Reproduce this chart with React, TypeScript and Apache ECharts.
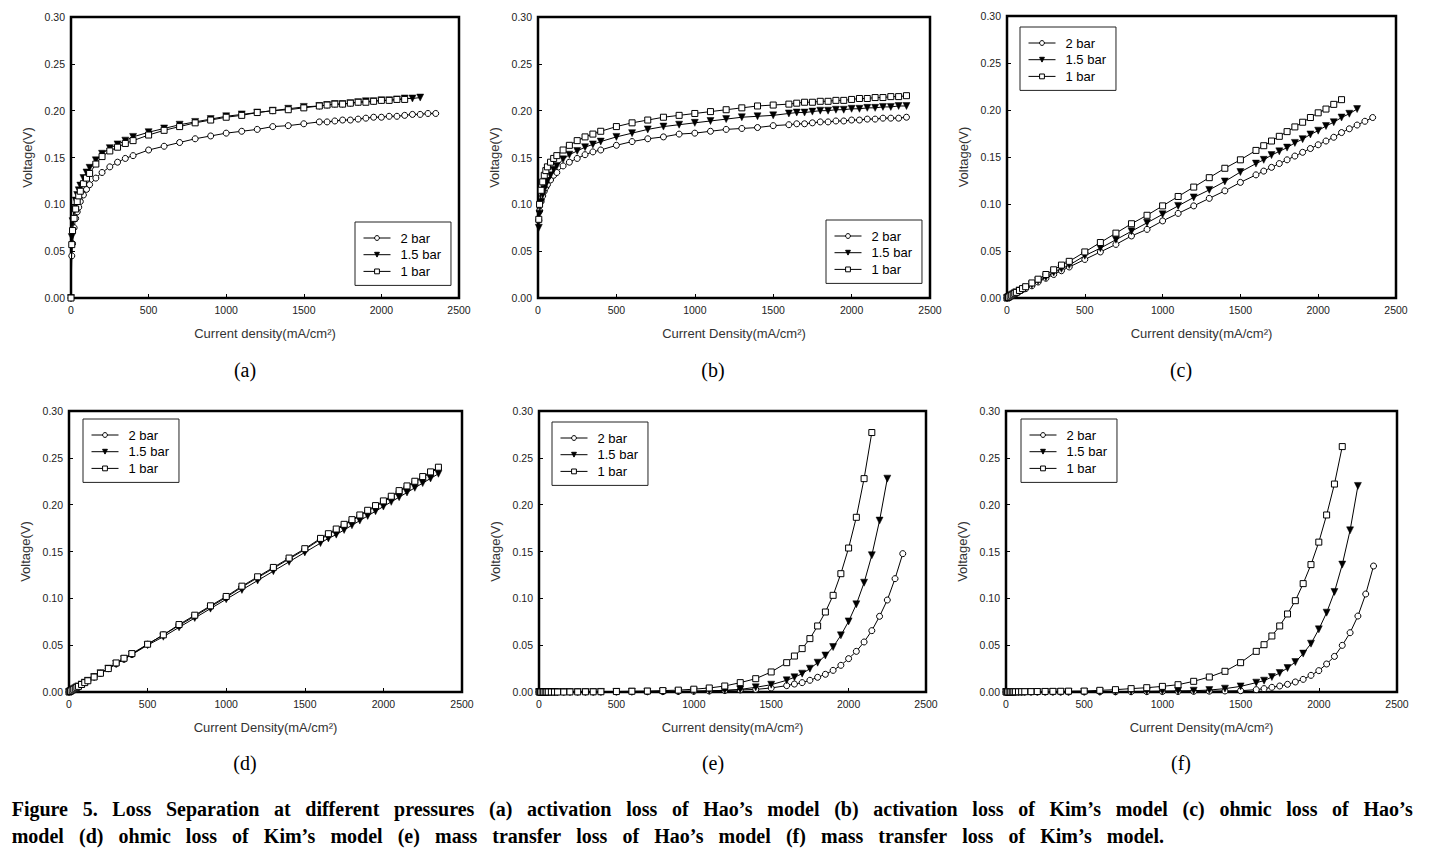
import React, { useEffect, useRef } from 'react';
import * as echarts from 'echarts';

// ---------------- data ----------------
// current density samples (mA/cm2)
const X_FULL = [0, 5, 10, 20, 30, 40, 50, 60, 80, 100, 120, 160, 200, 250, 300, 350, 400,
  500, 600, 700, 800, 900, 1000, 1100, 1200, 1300, 1400, 1500,
  1600, 1650, 1700, 1750, 1800, 1850, 1900, 1950, 2000, 2050, 2100, 2150, 2200, 2250, 2300, 2350];
const X_NO_ZERO = [5, 10, 20, 30, 40, 50, 60, 80, 100, 120, 160, 200, 250, 300, 350, 400,
  500, 600, 700, 800, 900, 1000, 1100, 1200, 1300, 1400, 1500,
  1600, 1650, 1700, 1750, 1800, 1850, 1900, 1950, 2000, 2050, 2100, 2150, 2200, 2250, 2300, 2350];

const SERIES_NAMES = ['2 bar', '1.5 bar', '1 bar'];
const Y_TICKS = [0, 0.05, 0.1, 0.15, 0.2, 0.25, 0.3];
const X_TICKS = [0, 500, 1000, 1500, 2000, 2500];

// (a) activation loss, Hao's model
const A_2BAR = [0, 0.045, 0.058, 0.075, 0.085, 0.092, 0.097, 0.103, 0.110, 0.116, 0.121, 0.128, 0.134, 0.140, 0.145, 0.149, 0.152,
  0.158, 0.162, 0.166, 0.170, 0.173, 0.176, 0.178, 0.180, 0.183, 0.184, 0.186,
  0.188, 0.188, 0.189, 0.190, 0.190, 0.191, 0.192, 0.193, 0.193, 0.194, 0.194, 0.195, 0.196, 0.196, 0.197, 0.197];
const A_15BAR = [0, 0.065, 0.082, 0.095, 0.104, 0.110, 0.115, 0.120, 0.128, 0.134, 0.139, 0.147, 0.154, 0.160, 0.164, 0.168, 0.172,
  0.177, 0.181, 0.185, 0.188, 0.191, 0.194, 0.196, 0.198, 0.200, 0.202, 0.204,
  0.205, 0.206, 0.207, 0.207, 0.208, 0.209, 0.210, 0.210, 0.211, 0.211, 0.212, 0.213, 0.213, 0.214];
const A_1BAR = [0, 0.057, 0.072, 0.085, 0.095, 0.103, 0.109, 0.114, 0.122, 0.128, 0.133, 0.143, 0.151, 0.157, 0.161, 0.165, 0.168,
  0.174, 0.179, 0.183, 0.187, 0.190, 0.193, 0.195, 0.198, 0.200, 0.201, 0.203,
  0.205, 0.206, 0.207, 0.207, 0.208, 0.209, 0.209, 0.210, 0.211, 0.211, 0.212, 0.212];

// (b) activation loss, Kim's model (starts at 5 mA/cm2)
const B_2BAR = [0.083, 0.093, 0.103, 0.109, 0.114, 0.118, 0.121, 0.126, 0.131, 0.134, 0.141, 0.145, 0.149, 0.153, 0.156, 0.158,
  0.163, 0.167, 0.170, 0.172, 0.175, 0.176, 0.178, 0.180, 0.181, 0.182, 0.184,
  0.185, 0.186, 0.186, 0.187, 0.188, 0.188, 0.189, 0.189, 0.190, 0.190, 0.191, 0.191, 0.192, 0.192, 0.192, 0.193];
const B_15BAR = [0.075, 0.090, 0.102, 0.110, 0.116, 0.121, 0.125, 0.131, 0.137, 0.141, 0.148, 0.153, 0.157, 0.161, 0.164, 0.167,
  0.172, 0.176, 0.180, 0.183, 0.185, 0.187, 0.189, 0.191, 0.193, 0.194, 0.195,
  0.197, 0.198, 0.198, 0.199, 0.200, 0.200, 0.201, 0.201, 0.202, 0.202, 0.203, 0.203, 0.204, 0.204, 0.205, 0.205];
const B_1BAR = [0.084, 0.100, 0.115, 0.124, 0.131, 0.136, 0.140, 0.145, 0.149, 0.152, 0.158, 0.163, 0.168, 0.172, 0.175, 0.178,
  0.183, 0.187, 0.190, 0.193, 0.195, 0.197, 0.199, 0.201, 0.203, 0.205, 0.206,
  0.207, 0.208, 0.209, 0.209, 0.210, 0.210, 0.211, 0.211, 0.212, 0.213, 0.213, 0.214, 0.214, 0.215, 0.215, 0.216];

// (c) ohmic loss, Hao's model
const C_2BAR = [0, 0.0004, 0.001, 0.002, 0.003, 0.004, 0.005, 0.006, 0.007, 0.009, 0.010, 0.013, 0.017, 0.021, 0.025, 0.029, 0.033,
  0.041, 0.049, 0.057, 0.066, 0.073, 0.082, 0.090, 0.098, 0.106, 0.114, 0.123,
  0.131, 0.135, 0.139, 0.143, 0.147, 0.151, 0.155, 0.159, 0.163, 0.167, 0.171, 0.176, 0.180, 0.184, 0.188, 0.192];
const C_15BAR = [0, 0.0005, 0.001, 0.002, 0.003, 0.004, 0.005, 0.006, 0.008, 0.009, 0.011, 0.014, 0.018, 0.022, 0.027, 0.031, 0.035,
  0.045, 0.053, 0.062, 0.071, 0.080, 0.089, 0.098, 0.107, 0.115, 0.124, 0.134,
  0.143, 0.147, 0.152, 0.156, 0.160, 0.165, 0.169, 0.174, 0.178, 0.183, 0.187, 0.192, 0.196, 0.201];
const C_1BAR = [0, 0.0005, 0.001, 0.002, 0.003, 0.004, 0.005, 0.006, 0.008, 0.010, 0.012, 0.016, 0.020, 0.025, 0.030, 0.035, 0.039,
  0.049, 0.059, 0.069, 0.079, 0.088, 0.098, 0.108, 0.118, 0.128, 0.138, 0.147,
  0.157, 0.162, 0.167, 0.172, 0.177, 0.182, 0.187, 0.192, 0.197, 0.201, 0.206, 0.211];

// (d) ohmic loss, Kim's model
const D_2BAR = [0, 0.0005, 0.001, 0.002, 0.003, 0.004, 0.005, 0.006, 0.008, 0.010, 0.012, 0.016, 0.020, 0.025, 0.030, 0.035, 0.040,
  0.051, 0.061, 0.071, 0.081, 0.091, 0.101, 0.112, 0.122, 0.132, 0.142, 0.152,
  0.163, 0.168, 0.173, 0.178, 0.183, 0.188, 0.193, 0.198, 0.203, 0.208, 0.214, 0.219, 0.224, 0.229, 0.234, 0.239];
const D_15BAR = [0, 0.0005, 0.001, 0.002, 0.003, 0.004, 0.005, 0.006, 0.008, 0.010, 0.012, 0.016, 0.020, 0.025, 0.030, 0.035, 0.040,
  0.050, 0.059, 0.069, 0.079, 0.089, 0.099, 0.109, 0.119, 0.129, 0.139, 0.149,
  0.159, 0.164, 0.168, 0.173, 0.178, 0.183, 0.188, 0.193, 0.198, 0.203, 0.208, 0.213, 0.218, 0.223, 0.228, 0.233];
const D_1BAR = [0, 0.0005, 0.001, 0.002, 0.003, 0.004, 0.005, 0.006, 0.008, 0.010, 0.012, 0.016, 0.020, 0.025, 0.031, 0.036, 0.041,
  0.051, 0.061, 0.072, 0.082, 0.092, 0.102, 0.113, 0.123, 0.133, 0.143, 0.153,
  0.164, 0.169, 0.174, 0.179, 0.184, 0.189, 0.194, 0.199, 0.204, 0.209, 0.215, 0.220, 0.225, 0.230, 0.235, 0.240];

// (e) mass transfer loss, Hao's model
const E_2BAR = [0, 0, 0, 0, 0, 0, 0, 0, 0, 0, 0, 0, 0, 0, 0, 0, 0.0001,
  0.0001, 0.0002, 0.0003, 0.0004, 0.0006, 0.0008, 0.0011, 0.0016, 0.0022, 0.0028, 0.0043,
  0.0068, 0.0085, 0.0100, 0.0125, 0.0157, 0.0189, 0.0231, 0.0285, 0.0356, 0.0434, 0.0534, 0.0655, 0.0808, 0.0982, 0.121, 0.1477];
const E_15BAR = [0, 0, 0, 0, 0, 0, 0, 0, 0, 0, 0, 0, 0, 0, 0, 0, 0.0001,
  0.0002, 0.0003, 0.0004, 0.0005, 0.0006, 0.0009, 0.0013, 0.0018, 0.0028, 0.0050, 0.0078,
  0.0125, 0.0157, 0.0196, 0.0249, 0.0313, 0.0390, 0.0480, 0.0605, 0.0754, 0.0936, 0.1167, 0.146, 0.183, 0.2278];
const E_1BAR = [0, 0, 0, 0, 0, 0, 0, 0, 0, 0, 0, 0, 0.0001, 0.0001, 0.0002, 0.0002, 0.0003,
  0.0005, 0.0008, 0.0010, 0.0015, 0.0020, 0.0030, 0.0043, 0.0064, 0.0100, 0.0142, 0.0214,
  0.0313, 0.0384, 0.0463, 0.0570, 0.0705, 0.0854, 0.1032, 0.1263, 0.1537, 0.1865, 0.2278, 0.277];

// (f) mass transfer loss, Kim's model
const F_2BAR = [0, 0, 0, 0, 0, 0, 0, 0, 0, 0, 0, 0, 0, 0, 0, 0, 0,
  0.0001, 0.0002, 0.0002, 0.0003, 0.0004, 0.0005, 0.0006, 0.0007, 0.0009, 0.0011, 0.0014,
  0.0025, 0.0036, 0.0050, 0.0064, 0.0082, 0.0107, 0.0135, 0.0178, 0.0228, 0.0299, 0.0380, 0.0498, 0.0633, 0.0811, 0.1046, 0.1345];
const F_15BAR = [0, 0, 0, 0, 0, 0, 0, 0, 0, 0, 0, 0, 0, 0, 0, 0, 0.0001,
  0.0002, 0.0003, 0.0004, 0.0005, 0.0007, 0.0010, 0.0012, 0.0014, 0.0021, 0.0036, 0.0060,
  0.0100, 0.0121, 0.0160, 0.0203, 0.0256, 0.0320, 0.0410, 0.0516, 0.0669, 0.0847, 0.1068, 0.136, 0.1726, 0.220];
const F_1BAR = [0, 0.0001, 0.0001, 0.0001, 0.0001, 0.0002, 0.0002, 0.0002, 0.0002, 0.0003, 0.0003, 0.0004, 0.0005, 0.0006, 0.0007, 0.0008, 0.0009,
  0.0010, 0.0018, 0.0025, 0.0036, 0.0046, 0.0060, 0.0078, 0.0114, 0.0160, 0.0221, 0.0313,
  0.0434, 0.0505, 0.0598, 0.0705, 0.0833, 0.0975, 0.1157, 0.136, 0.160, 0.189, 0.222, 0.262];

const PANEL_LABELS = ['(a)', '(b)', '(c)', '(d)', '(e)', '(f)'];
const X_NAMES = [
  'Current density(mA/cm²)', 'Current Density(mA/cm²)', 'Current density(mA/cm²)',
  'Current Density(mA/cm²)', 'Current density(mA/cm²)', 'Current Density(mA/cm²)',
];
const Y_NAME = 'Voltage(V)';

const PANEL_X = [
  [X_FULL, X_FULL, X_FULL], [X_NO_ZERO, X_NO_ZERO, X_NO_ZERO], [X_FULL, X_FULL, X_FULL],
  [X_FULL, X_FULL, X_FULL], [X_FULL, X_FULL, X_FULL], [X_FULL, X_FULL, X_FULL],
];
const PANEL_Y = [
  [A_2BAR, A_15BAR, A_1BAR], [B_2BAR, B_15BAR, B_1BAR], [C_2BAR, C_15BAR, C_1BAR],
  [D_2BAR, D_15BAR, D_1BAR], [E_2BAR, E_15BAR, E_1BAR], [F_2BAR, F_15BAR, F_1BAR],
];

const CAPTION_LINES = [
  'Figure 5. Loss Separation at different pressures (a) activation loss of Hao’s model (b) activation loss of Kim’s model (c) ohmic loss of Hao’s',
  'model (d) ohmic loss of Kim’s model (e) mass transfer loss of Hao’s model (f) mass transfer loss of Kim’s model.',
];

// ---------------- layout / style ----------------
const LAYOUT = [
  { grid: { left: 71, top: 17, width: 388, height: 281 }, legend: { left: 355, top: 222 }, label: { x: 245, y: 370 } },
  { grid: { left: 538, top: 17, width: 392, height: 281 }, legend: { left: 826, top: 220 }, label: { x: 713, y: 370 } },
  { grid: { left: 1007, top: 16, width: 389, height: 282 }, legend: { left: 1020, top: 27 }, label: { x: 1181, y: 370 } },
  { grid: { left: 69, top: 411, width: 393, height: 281 }, legend: { left: 83, top: 419 }, label: { x: 245, y: 763 } },
  { grid: { left: 539, top: 411, width: 387, height: 281 }, legend: { left: 552, top: 422 }, label: { x: 713, y: 763 } },
  { grid: { left: 1006, top: 411, width: 391, height: 281 }, legend: { left: 1021, top: 419 }, label: { x: 1181, y: 763 } },
];

const SERIES_STYLE: any[] = [
  { symbol: 'circle', symbolSize: 6, itemStyle: { color: '#fff', borderColor: '#000', borderWidth: 1 } },
  { symbol: 'triangle', symbolSize: 7, symbolRotate: 180, itemStyle: { color: '#000', borderColor: '#000', borderWidth: 0.5 } },
  { symbol: 'rect', symbolSize: 6, itemStyle: { color: '#fff', borderColor: '#000', borderWidth: 1 } },
];

const SANS = '"Liberation Sans", Arial, sans-serif';
const SERIF = '"Liberation Serif", "Times New Roman", serif';

function captionGraphics(): any[] {
  const ctx = document.createElement('canvas').getContext('2d') as CanvasRenderingContext2D;
  const font = 'bold 20px ' + SERIF;
  ctx.font = font;
  const lineSpecs = [
    { left: 11.7, right: 1412.7, y: 809 },
    { left: 11.7, right: 1164, y: 835.5 },
  ];
  const out: any[] = [];
  CAPTION_LINES.forEach((line, li) => {
    const words = line.split(' ');
    const widths = words.map((w) => ctx.measureText(w).width);
    const total = widths.reduce((s, w) => s + w, 0);
    const spec = lineSpecs[li];
    const gap = (spec.right - spec.left - total) / (words.length - 1);
    let x = spec.left;
    words.forEach((w, i) => {
      out.push({
        type: 'text', x, y: spec.y,
        style: { text: w, font, fill: '#000', align: 'left', verticalAlign: 'middle' },
      });
      x += widths[i] + gap;
    });
  });
  return out;
}

export default function App() {
  const ref = useRef<HTMLDivElement>(null);

  useEffect(() => {
    if (!ref.current) return;
    const chart = echarts.init(ref.current, undefined, { renderer: 'svg' });

    const grid = LAYOUT.map((l) => ({
      ...l.grid, show: true, borderColor: '#000', borderWidth: 2.5, backgroundColor: 'transparent',
    }));

    const xAxis = LAYOUT.map((_, i) => ({
      type: 'value', gridIndex: i,
      min: X_TICKS[0], max: X_TICKS[X_TICKS.length - 1], interval: X_TICKS[1] - X_TICKS[0],
      name: X_NAMES[i], nameLocation: 'middle', nameGap: 29,
      nameTextStyle: { fontSize: 13, color: '#333', fontFamily: SANS },
      axisLine: { show: false },
      axisTick: { show: true, inside: true, length: 4, lineStyle: { color: '#000', width: 1 } },
      splitLine: { show: false },
      axisLabel: { fontSize: 10.5, color: '#222', fontFamily: SANS, margin: 6, formatter: (v: number) => String(v) },
    }));

    const yAxis = LAYOUT.map((_, i) => ({
      type: 'value', gridIndex: i,
      min: Y_TICKS[0], max: Y_TICKS[Y_TICKS.length - 1], interval: Y_TICKS[1] - Y_TICKS[0],
      name: Y_NAME, nameLocation: 'middle', nameGap: 37,
      nameTextStyle: { fontSize: 13, color: '#333', fontFamily: SANS },
      axisLine: { show: false },
      axisTick: { show: true, inside: true, length: 4, lineStyle: { color: '#000', width: 1 } },
      splitLine: { show: false },
      axisLabel: { fontSize: 10.5, color: '#222', fontFamily: SANS, margin: 6, formatter: (v: number) => v.toFixed(2) },
    }));

    const series: any[] = [];
    PANEL_Y.forEach((group, i) => {
      group.forEach((ys, j) => {
        const xs = PANEL_X[i][j];
        series.push({
          type: 'line', name: SERIES_NAMES[j], xAxisIndex: i, yAxisIndex: i,
          data: ys.map((y, k) => [xs[k], y]),
          ...SERIES_STYLE[j],
          showAllSymbol: true,
          lineStyle: { color: '#000', width: 1 },
          emphasis: { disabled: true },
          z: 3 + j,
        });
      });
    });

    const legend = LAYOUT.map((l) => ({
      left: l.legend.left, top: l.legend.top, orient: 'vertical', data: SERIES_NAMES,
      itemWidth: 27, itemHeight: 6, itemGap: 2.7, padding: [9, 10, 7, 8],
      borderColor: '#222', borderWidth: 1, backgroundColor: '#fff',
      selectedMode: false,
      textStyle: { fontSize: 13, color: '#000', fontFamily: SANS, lineHeight: 14, padding: [0, 0, 0, 5] },
      itemStyle: { borderWidth: 1 },
      lineStyle: { width: 1 },
    }));

    const labels = LAYOUT.map((l, i) => ({
      type: 'text', x: l.label.x, y: l.label.y,
      style: { text: PANEL_LABELS[i], font: '20px ' + SERIF, fill: '#000', align: 'center', verticalAlign: 'middle' },
    }));

    chart.setOption({
      animation: false,
      backgroundColor: '#fff',
      grid, xAxis, yAxis, series, legend,
      graphic: [...labels, ...captionGraphics()],
    });

    return () => chart.dispose();
  }, []);

  return (
    <div
      ref={ref}
      style={{ position: 'fixed', left: 0, top: 0, width: 1436, height: 856, background: '#fff' }}
    />
  );
}
